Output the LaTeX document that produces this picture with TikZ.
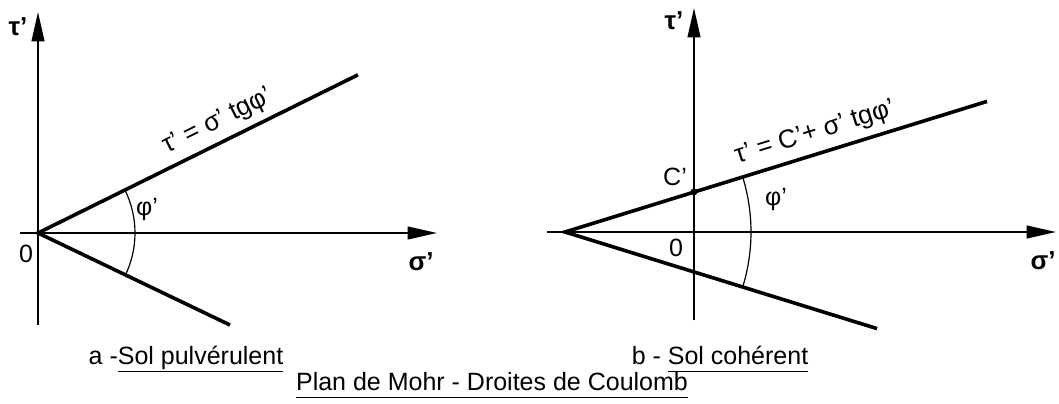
\documentclass[tikz,border=0pt]{standalone}
\usepackage{fontspec}
\setmainfont{Liberation Sans}
\usetikzlibrary{arrows.meta}
\newcommand{\ulab}[1]{\underline{#1\vphantom{p}}}
\begin{document}
\begin{tikzpicture}[x=0.75pt,y=-0.75pt,
  axisline/.style={line width=1.5pt,-{Triangle[length=22pt,width=9.5pt]}},
  coulomb/.style={line width=2.7pt},
  anglearc/.style={line width=0.9pt},
  lab/.style={font=\fontsize{18.75}{22}\selectfont, inner sep=0pt},
  axlab/.style={font=\fontsize{19.5}{22}\selectfont\bfseries, inner sep=0pt},
  eqlab/.style={font=\fontsize{19.5}{22}\selectfont, inner sep=0pt},
]
\useasboundingbox (0,0) rectangle (1059,403);
% ---------- left diagram: a ----------
\coordinate (O1) at (38,233);
\coordinate (V1b) at (38,325);
\coordinate (V1t) at (38,12);
\coordinate (H1l) at (20,233);
\coordinate (H1r) at (437,233);
\coordinate (U1) at (358,74.8);
\coordinate (L1) at (230,325);
\draw[axisline] (V1b) -- (V1t);
\draw[axisline] (H1l) -- (H1r);
\draw[coulomb] (U1) -- (O1) -- (L1);
\draw[anglearc] ([shift={(O1)}]-26.3:97) arc[start angle=-26.3, end angle=26.3, radius=97];
\node[axlab] (tau1) at (18,27) {τ’};
\node[axlab] (sig1) at (421,262) {σ’};
\node[lab] (zero1) at (26,254) {0};
\node[lab] (phi1) at (147,209) {φ’};
\node[eqlab, rotate=26.3] (eq1) at (218,122) {τ’ = σ’ tgφ’};
% ---------- right diagram: b ----------
\coordinate (A2) at (565,232);
\coordinate (V2b) at (694,320);
\coordinate (V2t) at (694,8);
\coordinate (H2l) at (547,232);
\coordinate (H2r) at (1056,232);
\coordinate (U2) at (987,101.4);
\coordinate (L2) at (877,328.6);
\coordinate (C2) at (694,191.9);
\draw[axisline] (V2b) -- (V2t);
\draw[axisline] (H2l) -- (H2r);
\draw[coulomb] (U2) -- (A2) -- (L2);
\fill (C2) circle[radius=3.5];
\draw[anglearc] ([shift={(A2)}]-17.2:186) arc[start angle=-17.2, end angle=17.2, radius=186];
\node[axlab] (tau2) at (674,21) {τ’};
\node[axlab] (sig2) at (1043,261) {σ’};
\node[lab] (zero2) at (676,248) {0};
\node[lab] (c2) at (675,177) {C’};
\node[lab] (phi2) at (776,199) {φ’};
\node[eqlab, rotate=17.2] (eq2) at (815,133) {τ’ = C’+ σ’ tgφ’};
% ---------- captions ----------
\node[lab, anchor=base] (capa) at (186,364) {a -\ulab{Sol pulvérulent}};
\node[lab, anchor=base] (capb) at (720,364) {b - \ulab{Sol cohérent}};
\node[lab, anchor=base] (title) at (492,390) {\ulab{Plan de Mohr - Droites de Coulomb}};
\end{tikzpicture}
\end{document}
